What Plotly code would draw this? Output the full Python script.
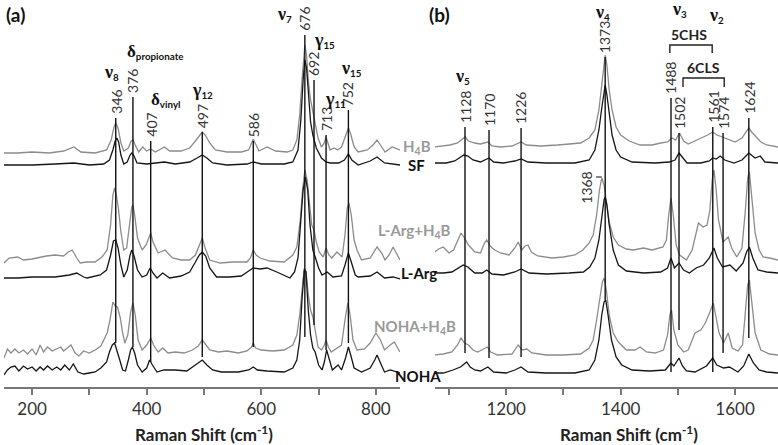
import plotly.graph_objects as go

# ---------------- data ----------------
series_names = ["H<sub>4</sub>B", "SF", "L-Arg+H<sub>4</sub>B", "L-Arg", "NOHA+H<sub>4</sub>B", "NOHA"]
series_offsets = [232, 220, 122, 107, 28, 12]

# panel (a): low-frequency region, (Raman shift, relative intensity)
a_h4b = [(151,2),(175,2),(200,3),(230,2),(255,4),(273,8),(285,3),(310,2),(330,5),(338,15),(343,28),(346,32),(350,27),(355,12),(360,4),(368,7),(373,14),(376,15),(380,10),(386,3),(393,8),(400,4),(407,6),(415,3),(431,8),(440,4),(460,4),(475,7),(485,14),(492,20),(497,23),(502,20),(510,12),(520,5),(540,3),(565,3),(578,5),(583,12),(586,16),(590,11),(596,4),(610,8),(625,4),(645,3),(655,5),(662,15),(667,40),(671,75),(674,100),(676,110),(679,100),(682,75),(686,55),(690,43),(694,33),(699,17),(705,8),(710,12),(713,18),(716,12),(720,5),(727,7),(733,5),(740,8),(746,17),(750,25),(752,27),(756,21),(762,8),(769,3),(785,5),(795,10),(802,15),(809,9),(816,3),(828,8),(842,5)]
a_sf = [(151,2),(200,2),(240,3),(273,4),(300,2),(325,3),(335,7),(341,17),(345,26),(348,29),(351,25),(355,12),(360,3),(366,5),(371,12),(374,14),(378,11),(383,4),(400,3),(431,5),(450,3),(475,5),(488,9),(497,12),(505,9),(515,4),(540,2),(575,3),(586,5),(600,3),(640,3),(655,5),(664,17),(669,47),(673,87),(676,107),(679,99),(682,72),(686,45),(690,32),(696,19),(705,9),(713,5),(720,4),(735,4),(745,7),(752,13),(758,7),(769,2),(790,6),(802,10),(815,4),(842,2)]
a_larg_h4b = [(151,2),(160,7),(175,8),(185,5),(200,6),(225,9),(240,10),(255,9),(263,13),(270,15),(278,7),(284,2),(295,3),(310,3),(322,8),(331,15),(337,40),(341,70),(344,77),(347,70),(351,55),(355,33),(360,15),(365,17),(370,40),(374,58),(376,60),(379,50),(384,27),(392,15),(399,20),(404,29),(407,32),(411,23),(420,12),(432,15),(445,7),(460,5),(475,5),(485,10),(492,19),(497,27),(502,17),(510,5),(528,2),(550,3),(575,3),(581,7),(586,15),(591,10),(598,7),(615,4),(640,3),(655,10),(662,18),(668,45),(672,75),(676,95),(680,85),(684,60),(688,40),(692,35),(696,23),(701,13),(708,8),(713,17),(718,10),(723,7),(732,13),(741,8),(746,30),(750,57),(753,62),(757,50),(762,25),(767,15),(775,5),(790,7),(802,18),(810,12),(816,5),(823,10),(830,18),(842,5)]
a_larg = [(151,2),(175,2),(200,3),(240,3),(265,5),(278,7),(290,3),(296,2),(319,5),(330,10),(337,25),(342,39),(346,40),(350,32),(355,15),(360,3),(366,10),(371,25),(374,30),(378,24),(384,10),(392,3),(400,5),(406,12),(411,7),(418,2),(428,7),(440,2),(460,4),(475,8),(485,18),(492,25),(497,28),(503,24),(510,12),(522,3),(545,3),(565,4),(578,9),(586,12),(598,11),(610,12),(627,8),(650,2),(658,8),(664,22),(669,60),(673,90),(677,103),(681,90),(685,55),(690,30),(694,23),(700,12),(706,5),(715,8),(725,3),(740,4),(746,15),(752,27),(757,18),(764,5),(769,3),(790,4),(802,8),(815,2),(830,3),(842,1)]
a_noha_h4b = [(151,1),(157,10),(163,6),(170,10),(177,6),(185,9),(192,5),(200,10),(207,4),(214,14),(220,7),(227,12),(235,8),(243,10),(250,12),(255,8),(262,11),(268,14),(275,6),(282,3),(290,8),(300,6),(310,9),(320,13),(331,26),(336,39),(341,57),(345,53),(349,52),(354,41),(358,26),(362,16),(367,24),(372,47),(376,56),(380,44),(385,19),(392,9),(400,14),(407,21),(412,14),(420,7),(428,11),(437,6),(450,7),(465,6),(480,9),(490,13),(497,19),(503,14),(510,9),(525,7),(540,8),(560,6),(575,8),(583,12),(586,16),(590,11),(600,9),(620,8),(640,9),(655,14),(662,24),(667,44),(671,69),(675,91),(678,87),(682,64),(686,49),(690,42),(694,29),(699,12),(705,9),(710,14),(713,19),(717,12),(722,7),(732,11),(740,14),(746,39),(751,56),(755,44),(760,19),(767,9),(780,10),(790,16),(800,26),(808,19),(815,9),(825,14),(832,17),(842,7)]
a_noha = [(151,0),(157,5),(163,8),(170,9),(177,4),(185,9),(192,6),(200,8),(207,4),(214,8),(220,5),(227,9),(235,5),(243,8),(250,5),(257,10),(265,5),(272,11),(280,3),(290,1),(300,2),(310,3),(320,7),(330,13),(335,23),(340,30),(344,32),(348,25),(353,15),(358,5),(363,4),(368,15),(372,25),(375,28),(379,22),(384,10),(392,3),(400,7),(405,15),(410,10),(418,3),(430,5),(450,5),(470,4),(485,10),(497,15),(505,10),(515,5),(530,3),(560,3),(578,5),(586,8),(593,5),(610,4),(640,3),(655,7),(662,15),(667,35),(671,75),(675,105),(678,103),(682,65),(686,40),(690,27),(694,23),(700,10),(706,5),(710,13),(714,25),(718,17),(724,5),(734,10),(740,5),(747,17),(752,28),(756,20),(762,7),(775,3),(790,7),(798,15),(802,20),(808,12),(815,3),(825,5),(842,2)]

# panel (b): high-frequency region
b_h4b = [(1075,8),(1090,9),(1102,10),(1115,12),(1123,16),(1128,18),(1134,14),(1145,12),(1155,11),(1163,12),(1168,13),(1175,9),(1190,8),(1210,9),(1222,12),(1226,13),(1235,10),(1260,9),(1290,10),(1310,11),(1330,12),(1345,17),(1355,25),(1362,45),(1367,70),(1371,93),(1373,100),(1376,90),(1380,65),(1385,45),(1392,28),(1400,20),(1415,14),(1434,10),(1455,10),(1470,12),(1482,13),(1490,17),(1496,15),(1503,22),(1510,14),(1518,11),(1530,14),(1540,17),(1552,20),(1561,23),(1568,20),(1578,18),(1590,15),(1600,13),(1612,17),(1619,23),(1624,27),(1629,23),(1636,19),(1645,13),(1655,10),(1665,9),(1675,8)]
b_sf = [(1075,4),(1095,4),(1110,6),(1120,10),(1126,12),(1133,11),(1142,7),(1155,5),(1163,7),(1170,9),(1178,5),(1195,4),(1215,6),(1226,8),(1238,5),(1270,4),(1320,4),(1345,7),(1355,17),(1362,37),(1367,59),(1371,77),(1373,82),(1376,72),(1380,52),(1385,32),(1392,17),(1400,10),(1420,5),(1460,4),(1485,5),(1495,7),(1502,14),(1508,10),(1516,4),(1540,4),(1555,6),(1561,9),(1567,8),(1574,11),(1582,7),(1598,4),(1612,7),(1624,14),(1635,9),(1644,11),(1652,5),(1675,4)]
b_larg_h4b = [(1075,13),(1082,16),(1090,18),(1100,12),(1108,15),(1116,25),(1121,32),(1127,27),(1134,20),(1145,13),(1155,12),(1162,22),(1166,25),(1172,19),(1180,15),(1190,12),(1205,10),(1215,17),(1221,23),(1227,15),(1233,19),(1238,20),(1244,13),(1255,9),(1280,7),(1300,8),(1320,10),(1334,15),(1345,22),(1352,30),(1358,50),(1363,75),(1367,87),(1371,80),(1375,65),(1380,43),(1387,28),(1396,20),(1410,16),(1422,15),(1440,17),(1455,15),(1474,18),(1480,25),(1484,50),(1488,67),(1492,50),(1497,20),(1503,10),(1515,5),(1525,15),(1530,27),(1536,42),(1544,38),(1551,40),(1556,55),(1560,85),(1563,95),(1567,75),(1571,45),(1579,23),(1588,28),(1594,17),(1603,8),(1612,17),(1618,55),(1622,87),(1625,93),(1629,70),(1635,32),(1642,15),(1649,8),(1660,7),(1675,5)]
b_larg = [(1075,7),(1090,7),(1105,8),(1117,12),(1125,15),(1133,13),(1145,7),(1158,7),(1166,10),(1175,6),(1195,5),(1215,8),(1226,11),(1240,7),(1270,6),(1310,7),(1335,8),(1346,13),(1355,22),(1362,40),(1367,65),(1371,80),(1373,83),(1376,75),(1380,55),(1387,30),(1396,15),(1410,9),(1440,7),(1470,8),(1482,12),(1488,22),(1494,12),(1502,17),(1510,10),(1520,7),(1532,12),(1545,15),(1555,22),(1563,32),(1569,22),(1578,13),(1591,15),(1602,9),(1614,17),(1620,28),(1625,33),(1631,22),(1640,10),(1655,8),(1675,7)]
b_noha_h4b = [(1075,4),(1090,5),(1105,7),(1115,14),(1121,21),(1127,16),(1134,14),(1142,9),(1150,7),(1162,10),(1167,12),(1173,7),(1185,4),(1210,5),(1221,14),(1228,9),(1236,10),(1245,6),(1270,4),(1300,4),(1330,5),(1345,11),(1352,19),(1358,39),(1363,59),(1368,77),(1371,81),(1375,69),(1380,44),(1387,26),(1396,17),(1410,9),(1425,9),(1434,12),(1445,7),(1460,6),(1475,9),(1482,24),(1486,44),(1489,49),(1493,29),(1500,14),(1510,7),(1518,9),(1525,19),(1530,26),(1540,29),(1548,36),(1556,47),(1562,56),(1567,41),(1572,26),(1580,16),(1588,26),(1595,11),(1605,8),(1613,14),(1618,49),(1622,74),(1625,79),(1629,59),(1635,26),(1645,9),(1660,5),(1675,4)]
b_noha = [(1075,2),(1090,2),(1107,5),(1120,8),(1131,13),(1137,8),(1145,5),(1155,4),(1168,8),(1178,3),(1200,2),(1215,5),(1226,8),(1238,3),(1270,2),(1320,2),(1345,5),(1355,15),(1362,35),(1367,60),(1371,73),(1374,75),(1378,60),(1384,35),(1392,18),(1402,10),(1420,5),(1450,4),(1478,5),(1484,9),(1488,12),(1493,9),(1502,17),(1508,9),(1515,4),(1530,3),(1550,9),(1561,17),(1568,10),(1580,7),(1590,8),(1605,3),(1615,9),(1624,21),(1632,12),(1642,5),(1655,3),(1675,2)]

a_spectra = [a_h4b, a_sf, a_larg_h4b, a_larg, a_noha_h4b, a_noha]
b_spectra = [b_h4b, b_sf, b_larg_h4b, b_larg, b_noha_h4b, b_noha]

# marked bands: label value and where the marker line sits on the axis
a_bands = [346, 376, 407, 497, 586, 676, 692, 713, 752]
a_band_x = [346, 376, 407, 497, 586, 676, 692, 713, 752]
b_bands = [1128, 1170, 1226, 1373, 1488, 1502, 1561, 1574, 1624]
b_band_x = [1128, 1170, 1226, 1373, 1488, 1502, 1561, 1579, 1624]

a_ticks = [200, 300, 400, 500, 600, 700, 800]
a_ticktext = ["200", "", "400", "", "600", "", "800"]
b_ticks = [1100, 1200, 1300, 1400, 1500, 1600]
b_ticktext = ["", "1200", "", "1400", "", "1600"]

# ---------------- styling / layout ----------------
GRAY = "#8c8c8c"
BLACK = "#161616"
series_colors = [GRAY, BLACK, GRAY, BLACK, GRAY, BLACK]
label_colors = ["#9a9a9a", "#111111", "#9a9a9a", "#111111", "#9a9a9a", "#111111"]
SANS = "Lato"
SERIF = "Liberation Serif"
H = 382.0  # plot-area height in y units

fig = go.Figure()
for spectra, xa in ((a_spectra, "x"), (b_spectra, "x2")):
    for i, spec in enumerate(spectra):
        fig.add_trace(go.Scatter(
            x=[p[0] for p in spec],
            y=[p[1] + series_offsets[i] for p in spec],
            mode="lines", xaxis=xa, yaxis="y",
            line=dict(color=series_colors[i], width=1.3),
            showlegend=False, hoverinfo="skip"))

# band lines: (top, bottom) in plot units
a_line_ext = [(269, 44), (290, 40), (246, 25), (255, 30), (246, 40), (352, 50), (307, 62), (252, 37), (277, 44)]
b_line_ext = [(260, 34), (257, 29), (259, 30), (330, 87), (289, 15), (254, 57), (260, 15), (254, 34), (269, 49)]

shapes = []
annotations = []


def ann(xref, x, yv, text, font, **kw):
    d = dict(xref=xref, yref="paper", x=x, y=yv / H, text=text, showarrow=False,
             xanchor="center", yanchor="middle", font=font)
    d.update(kw)
    annotations.append(d)


for bands, bx, ext, xr in ((a_bands, a_band_x, a_line_ext, "x"), (b_bands, b_band_x, b_line_ext, "x2")):
    for b, xv, (top, bot) in zip(bands, bx, ext):
        shapes.append(dict(type="line", xref=xr, yref="y", x0=xv, x1=xv, y0=bot, y1=top,
                           line=dict(color="#111111", width=1.4)))
        ann(xr, xv, top + 2, str(b), dict(family=SANS, size=14, color="#333333"),
            textangle=-90, yanchor="bottom")

# 1368 marker
ann("x2", 1339, 199, "1368", dict(family=SANS, size=14, color="#333333"), textangle=-90)
shapes.append(dict(type="line", xref="x2", yref="y", x0=1357, x1=1367, y0=210, y1=210,
                   line=dict(color="#333333", width=1.2)))

# brackets
for (xl, xr_, ytop, ybot) in ((1486, 1560, 342, 334), (1509, 1581, 309, 300)):
    shapes.append(dict(type="path", xref="x2", yref="y",
                       path=f"M {xl},{ybot} L {xl},{ytop} L {xr_},{ytop} L {xr_},{ybot}",
                       line=dict(color="#222222", width=1.4)))


def greek(sym, sub, size=18):
    return f"<span style='font-family:{SERIF};font-size:{size}px'><b>{sym}</b></span><sub><b>{sub}</b></sub>"

mode_labels = [
    ("x", 339, 315, greek("ν", "8")),
    ("x", 414, 335, greek("δ", "propionate", 17)),
    ("x", 432, 287, greek("δ", "vinyl", 17)),
    ("x", 498, 296, greek("γ", "12")),
    ("x", 641, 372, greek("ν", "7")),
    ("x", 711, 346, greek("γ", "15")),
    ("x", 729, 287, greek("γ", "11")),
    ("x", 758, 319, greek("ν", "15")),
    ("x2", 1124, 310, greek("ν", "5")),
    ("x2", 1369, 375, greek("ν", "4")),
    ("x2", 1502, 377, greek("ν", "3")),
    ("x2", 1568, 371, greek("ν", "2")),
]
for xr, xv, yv, txt in mode_labels:
    ann(xr, xv, yv, txt, dict(family=SANS, size=14, color="#111111"))

ann("x2", 1519, 353, "<b>5CHS</b>", dict(family=SANS, size=14, color="#222222"))
ann("x2", 1544, 320, "<b>6CLS</b>", dict(family=SANS, size=14, color="#222222"))

# series labels between panels (paper x, plot-unit y)
label_pos = [(0.5543, 240), (0.5465, 222), (0.580, 156), (0.562, 114), (0.5866, 60), (0.567, 11)]
for name, (px_, py_), col in zip(series_names, label_pos, label_colors):
    ann("paper", px_, py_, f"<b>{name}</b>", dict(family=SANS, size=15, color=col), xanchor="right")

# panel letters and axis titles
ann("paper", 0.0, 372, "<b>(a)</b>", dict(family=SANS, size=19, color="#111111"), xanchor="left")
ann("paper", 0.546, 372, "<b>(b)</b>", dict(family=SANS, size=19, color="#111111"), xanchor="left")
for xp in (0.2584, 0.8075):
    ann("paper", xp, -46, "<b>Raman Shift (cm<sup>-1</sup>)</b>", dict(family=SANS, size=17, color="#222222"))

axis_common = dict(showline=True, linecolor="#777777", linewidth=1.5, ticks="outside",
                   ticklen=6, tickwidth=1.5, tickcolor="#777777", showgrid=False,
                   zeroline=False, anchor="y", fixedrange=True,
                   tickfont=dict(family=SANS, size=17, color="#333333"))

fig.update_layout(
    width=778, height=445,
    margin=dict(l=4, r=0, t=5, b=58),
    paper_bgcolor="white", plot_bgcolor="white",
    xaxis=dict(domain=[0, 0.5116], range=[151, 842], tickvals=a_ticks, ticktext=a_ticktext, **axis_common),
    xaxis2=dict(domain=[0.5568, 1.0], range=[1075.5, 1675], tickvals=b_ticks, ticktext=b_ticktext, **axis_common),
    yaxis=dict(range=[0, H], visible=False, fixedrange=True),
    shapes=shapes, annotations=annotations, showlegend=False,
)

fig.write_html("out.html", config={"displayModeBar": False},
               post_script="document.body.style.margin='0';")
